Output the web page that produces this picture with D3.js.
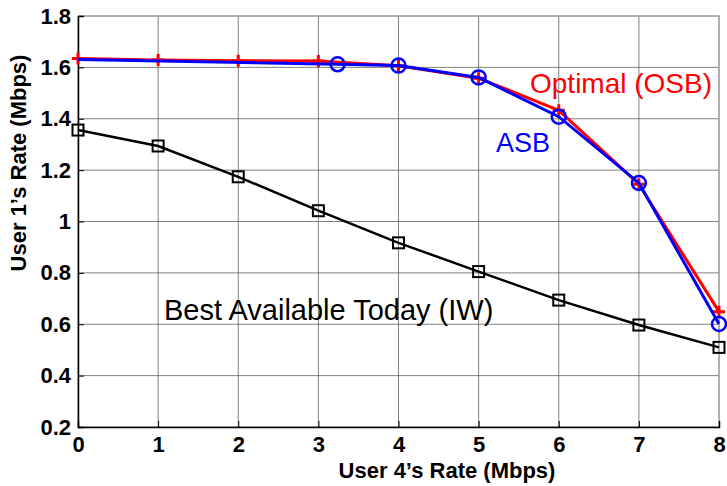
<!DOCTYPE html>
<html>
<head>
<meta charset="utf-8">
<script src="https://cdn.jsdelivr.net/npm/d3@7"></script>
<style>
  body { margin: 0; background: #fff; }
  svg { display: block; font-family: "Liberation Sans", Arial, sans-serif; }
</style>
</head>
<body>
<script>
// values
const xTicks = [0, 1, 2, 3, 4, 5, 6, 7, 8]
const yTicks = [0.2, 0.4, 0.6, 0.8, 1, 1.2, 1.4, 1.6, 1.8]

const osbX = [0, 1, 2, 3, 4, 5, 6, 7, 8]
const osbY = [1.635, 1.629, 1.626, 1.625, 1.606, 1.558, 1.433, 1.145, 0.649]

const asbX = [0, 3.24, 4, 5, 6, 7, 8]
const asbY = [1.631, 1.612, 1.607, 1.561, 1.408, 1.15, 0.601]

const iwX = [0, 1, 2, 3, 4, 5, 6, 7, 8]
const iwY = [1.356, 1.294, 1.174, 1.042, 0.917, 0.805, 0.694, 0.597, 0.51]

const W = 727, H = 486
const pLeft = 78, pRight = 719, pTop = 16, pBottom = 427

const x = d3.scaleLinear().domain([0, 8]).range([pLeft, pRight])
const y = d3.scaleLinear().domain([0.2, 1.8]).range([pBottom, pTop])

const svg = d3.select('body').append('svg')
    .attr('width', W)
    .attr('height', H)

// grid
svg.append('g')
    .selectAll('line')
    .data(xTicks)
    .enter().append('line')
    .attr('x1', d => x(d)).attr('x2', d => x(d))
    .attr('y1', pTop).attr('y2', pBottom)
    .attr('stroke', '#555').attr('stroke-opacity', 0.75)

svg.append('g')
    .selectAll('line')
    .data(yTicks)
    .enter().append('line')
    .attr('x1', pLeft).attr('x2', pRight)
    .attr('y1', d => y(d)).attr('y2', d => y(d))
    .attr('stroke', '#555').attr('stroke-opacity', 0.75)

// box: light top/right
svg.append('path')
    .attr('d', `M${pLeft},${pTop}H${pRight}V${pBottom}`)
    .attr('fill', 'none').attr('stroke', '#aaa').attr('stroke-width', 1.5)

// axes
const xAxis = d3.axisBottom(x).tickValues(xTicks).tickSize(-6).tickPadding(10).tickFormat(d3.format('d'))
const yAxis = d3.axisLeft(y).tickValues(yTicks).tickSize(-6).tickPadding(7).tickFormat(d => d === 1 ? '1' : d3.format('.1f')(d))

const gx = svg.append('g').attr('transform', `translate(0,${pBottom})`).call(xAxis)
const gy = svg.append('g').attr('transform', `translate(${pLeft},0)`).call(yAxis)

for (const g of [gx, gy]) {
    g.select('.domain').attr('stroke', '#000').attr('stroke-width', 1.5)
    g.selectAll('.tick line').attr('stroke', '#000')
    g.selectAll('.tick text')
        .attr('fill', '#000')
        .style('font-family', '"Liberation Sans", Arial, sans-serif')
        .style('font-size', '22px')
        .style('font-weight', 'bold')
}
gx.selectAll('.tick text').attr('dy', '0.68em')

// axis titles
svg.append('text')
    .attr('x', 447)
    .attr('y', 478)
    .attr('text-anchor', 'middle')
    .style('font-size', '22px').style('font-weight', 'bold')
    .text('User 4\u2019s Rate (Mbps)')

svg.append('text')
    .attr('transform', 'translate(26,163) rotate(-90)')
    .attr('text-anchor', 'middle')
    .style('font-size', '22px').style('font-weight', 'bold')
    .text('User 1\u2019s Rate (Mbps)')

const line = d3.line().x(d => x(d[0])).y(d => y(d[1]))

const osb = osbX.map((v, i) => [v, osbY[i]])
const asb = asbX.map((v, i) => [v, asbY[i]])
const iw = iwX.map((v, i) => [v, iwY[i]])

// Optimal (OSB)
svg.append('path').datum(osb)
    .attr('d', line)
    .attr('fill', 'none').attr('stroke', '#f00').attr('stroke-width', 3)

svg.append('g')
    .selectAll('path')
    .data(osb)
    .enter().append('path')
    .attr('d', d => `M${x(d[0]) - 6},${y(d[1])}h12M${x(d[0])},${y(d[1]) - 6}v12`)
    .attr('stroke', '#f00').attr('stroke-width', 3)

// ASB
svg.append('path').datum(asb)
    .attr('d', line)
    .attr('fill', 'none').attr('stroke', '#00f').attr('stroke-width', 3)

svg.append('g')
    .selectAll('circle')
    .data(asb.filter((d, i) => i > 0))
    .enter().append('circle')
    .attr('cx', d => x(d[0]))
    .attr('cy', d => y(d[1]))
    .attr('r', 7)
    .attr('fill', 'none').attr('stroke', '#00f').attr('stroke-width', 2.5)

// IW
svg.append('path').datum(iw)
    .attr('d', line)
    .attr('fill', 'none').attr('stroke', '#000').attr('stroke-width', 2.5)

svg.append('g')
    .selectAll('rect')
    .data(iw)
    .enter().append('rect')
    .attr('x', d => x(d[0]) - 5.5)
    .attr('y', d => y(d[1]) - 5.5)
    .attr('width', 11).attr('height', 11)
    .attr('fill', 'none').attr('stroke', '#000').attr('stroke-width', 2)

// annotations
svg.append('text')
    .attr('x', 530).attr('y', 93)
    .style('font-size', '28px').attr('fill', '#f00')
    .text('Optimal (OSB)')

svg.append('text')
    .attr('x', 496).attr('y', 152)
    .style('font-size', '27px').attr('fill', '#00f')
    .text('ASB')

svg.append('text')
    .attr('x', 164).attr('y', 320)
    .style('font-size', '29px').attr('fill', '#000')
    .text('Best Available Today (IW)')
</script>
</body>
</html>
